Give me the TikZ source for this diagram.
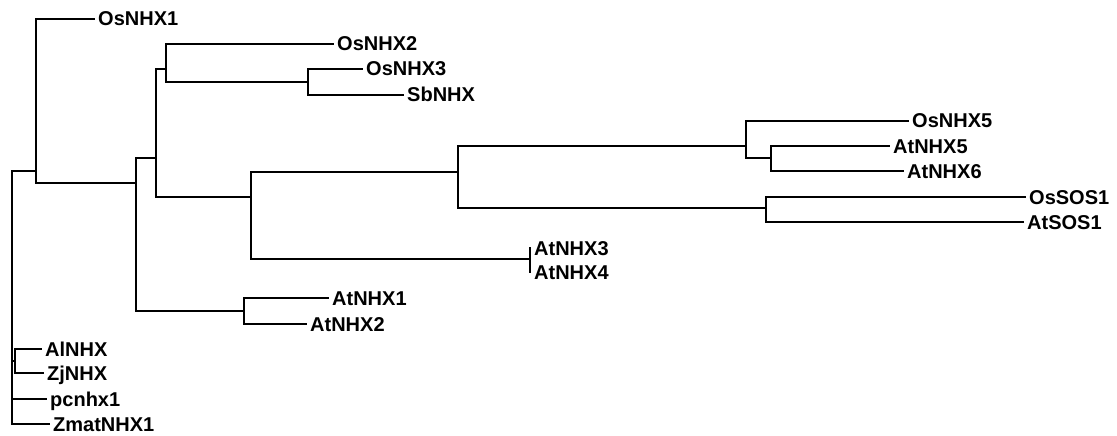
\documentclass[tikz,border=0pt]{standalone}
\usepackage{fontspec}
\setmainfont{Liberation Sans}
\begin{document}
\begin{tikzpicture}[x=1pt,y=-1pt,
  branch/.style={line width=1.6pt,black,line cap=rect},
  leaf/.style={anchor=west,inner xsep=4pt,inner ysep=0pt,text height=14pt,text depth=0pt,
    font=\fontsize{20}{23}\selectfont\bfseries}]
\useasboundingbox (0,0) rectangle (1117,436);
% internal nodes
\coordinate (R) at (12,171);
\coordinate (A) at (36,171);
\coordinate (B) at (15,361);
\coordinate (C) at (136,183);
\coordinate (D) at (156,158);
\coordinate (E) at (244,311);
\coordinate (F) at (166,69);
\coordinate (G) at (251,197);
\coordinate (H) at (308,82);
\coordinate (I) at (458,172);
\coordinate (J) at (530,259);
\coordinate (K) at (746,146);
\coordinate (L) at (766,208);
\coordinate (M) at (771,158);
% leaves
\node[leaf] (osnhx1) at (94,19) {OsNHX1};
\node[leaf] (osnhx2) at (333,44) {OsNHX2};
\node[leaf] (osnhx3) at (362,69) {OsNHX3};
\node[leaf] (sbnhx) at (403,95) {SbNHX};
\node[leaf] (osnhx5) at (908,121) {OsNHX5};
\node[leaf] (atnhx5) at (889,146) {AtNHX5};
\node[leaf] (atnhx6) at (903,171) {AtNHX6};
\node[leaf] (ossos1) at (1025,197) {OsSOS1};
\node[leaf] (atsos1) at (1023,222) {AtSOS1};
\node[leaf] (atnhx3) at (530,248) {AtNHX3};
\node[leaf] (atnhx4) at (530,272) {AtNHX4};
\node[leaf] (atnhx1) at (328,298) {AtNHX1};
\node[leaf] (atnhx2) at (306,324) {AtNHX2};
\node[leaf] (alnhx) at (41,349) {AlNHX};
\node[leaf] (zjnhx) at (43,373) {ZjNHX};
\node[leaf] (pcnhx1) at (46,399) {pcnhx1};
\node[leaf] (zmatnhx1) at (49,424) {ZmatNHX1};
% branches
\draw[branch] (R) |- (A);
\draw[branch] (R) |- (B);
\draw[branch] (R) |- (pcnhx1.west);
\draw[branch] (R) |- (zmatnhx1.west);
\draw[branch] (B) |- (alnhx.west);
\draw[branch] (B) |- (zjnhx.west);
\draw[branch] (A) |- (osnhx1.west);
\draw[branch] (A) |- (C);
\draw[branch] (C) |- (D);
\draw[branch] (C) |- (E);
\draw[branch] (D) |- (F);
\draw[branch] (D) |- (G);
\draw[branch] (F) |- (osnhx2.west);
\draw[branch] (F) |- (H);
\draw[branch] (H) |- (osnhx3.west);
\draw[branch] (H) |- (sbnhx.west);
\draw[branch] (G) |- (I);
\draw[branch] (G) |- (J);
\draw[branch] (I) |- (K);
\draw[branch] (I) |- (L);
\draw[branch] (K) |- (osnhx5.west);
\draw[branch] (K) |- (M);
\draw[branch] (M) |- (atnhx5.west);
\draw[branch] (M) |- (atnhx6.west);
\draw[branch] (L) |- (ossos1.west);
\draw[branch] (L) |- (atsos1.west);
\draw[branch] (J) |- (atnhx3.west);
\draw[branch] (J) |- (atnhx4.west);
\draw[branch] (E) |- (atnhx1.west);
\draw[branch] (E) |- (atnhx2.west);
\end{tikzpicture}
\end{document}
